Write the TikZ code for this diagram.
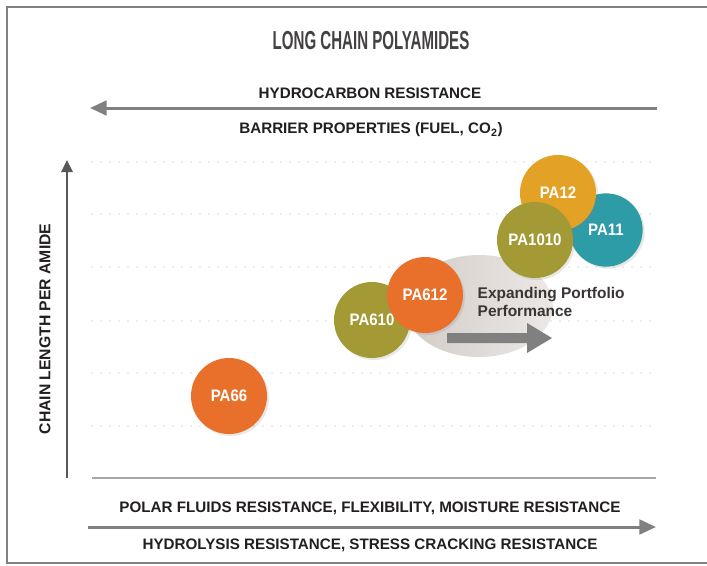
\documentclass[tikz,border=0pt]{standalone}
\usepackage{fontspec}
\setmainfont{Liberation Sans}
\newfontfamily\titlefont[FakeStretch=0.58]{Liberation Sans}
\newfontfamily\bubblefont[FakeStretch=0.9]{Liberation Sans}
\usetikzlibrary{calc, shadows, arrows.meta}
\definecolor{paorange}{HTML}{E8702A}
\definecolor{paolive}{HTML}{A39A35}
\definecolor{pagold}{HTML}{E3A126}
\definecolor{pateal}{HTML}{2E9CA6}
\definecolor{framegray}{HTML}{808080}
\definecolor{ink}{HTML}{231F20}
\definecolor{swooshdark}{HTML}{D3CCC7}
\definecolor{swooshlight}{HTML}{EBE8E6}

\begin{document}
\begin{tikzpicture}[x=0.75pt, y=-0.75pt,
  bubble/.style={circle, minimum size=57pt, inner sep=0pt, text=white,
    font=\bubblefont\bfseries\fontsize{12.5}{14}\selectfont,
    drop shadow={opacity=0.18, shadow xshift=1.5pt, shadow yshift=-1.5pt}},
  caption/.style={text=ink, font=\bfseries\fontsize{11.4}{13}\selectfont},
  grayarrow/.style={draw=framegray, line width=2.25pt, -{Triangle[length=12.5pt, width=11pt]}},
  gridline/.style={gray!60, line width=1.1pt, line cap=round, dash pattern=on 0pt off 6.75pt}]
\useasboundingbox (0, 0) rectangle (707, 565);
\fill [white] (0, 0) rectangle (707, 565);
\draw [framegray, line width=1.5pt] (720, 7) -- (7, 7) -- (7, 563) -- (720, 563);

% top scale
\node at (371, 41) [name=title, text=ink!85, font=\titlefont\bfseries\fontsize{19.5}{22}\selectfont] {LONG CHAIN POLYAMIDES};
\node at (370, 93) [name=hydro, caption] {HYDROCARBON RESISTANCE};
\node at (371, 130) [name=barrier, caption] {BARRIER PROPERTIES (FUEL, CO\textsubscript{2})};
\coordinate (H1) at (657, 108);
\coordinate (H2) at (90, 108);
\draw [grayarrow] (H1) -- (H2);

% grid and axes
\foreach \y in {162, 214, 267, 321, 373, 426}
  \draw [gridline] (92, \y) -- (657, \y);
\coordinate (O) at (67, 478);
\coordinate (Ytop) at (67, 160);
\coordinate (Xend) at (656, 478);
\draw [ink!75, line width=1.5pt, -{Triangle[length=9pt, width=8.5pt]}] (O) -- (Ytop);
\draw [gray!70, line width=1.1pt] (92, 478) -- (Xend);
\node at (45, 329) [name=ylabel, rotate=90, text=ink, font=\bfseries\fontsize{11.8}{13}\selectfont] {CHAIN LENGTH PER AMIDE};

% bottom scale
\node at (370, 508) [name=polar, caption] {POLAR FLUIDS RESISTANCE, FLEXIBILITY, MOISTURE RESISTANCE};
\coordinate (P1) at (88, 527);
\coordinate (P2) at (656, 527);
\draw [grayarrow] (P1) -- (P2);
\node at (370, 545) [name=hydrolysis, caption] {HYDROLYSIS RESISTANCE, STRESS CRACKING RESISTANCE};

% portfolio swoosh
\shade [left color=swooshdark, right color=swooshlight] (479, 306) ellipse [x radius=74, y radius=51];
\fill [black!50] (447, 333) -- (527, 333) -- (527, 323) -- (552, 338) -- (527, 353) -- (527, 343) -- (447, 343) -- cycle;
\node at (473, 302) [name=portfolio, anchor=west, align=left, text=ink!90, font=\bfseries\fontsize{11.6}{13.5}\selectfont] {Expanding Portfolio\\Performance};

% polyamides
\node at (229, 396) [name=pa66, bubble, fill=paorange] {PA66};
\node at (372, 320) [name=pa610, bubble, fill=paolive] {PA610};
\node at (425, 295) [name=pa612, bubble, fill=paorange] {PA612};
\node at (606, 230) [name=pa11, bubble, fill=pateal, minimum size=55pt] {PA11};
\node at (558, 193) [name=pa12, bubble, fill=pagold] {PA12};
\node at (535, 240) [name=pa1010, bubble, fill=paolive] {PA1010};
\end{tikzpicture}
\end{document}
